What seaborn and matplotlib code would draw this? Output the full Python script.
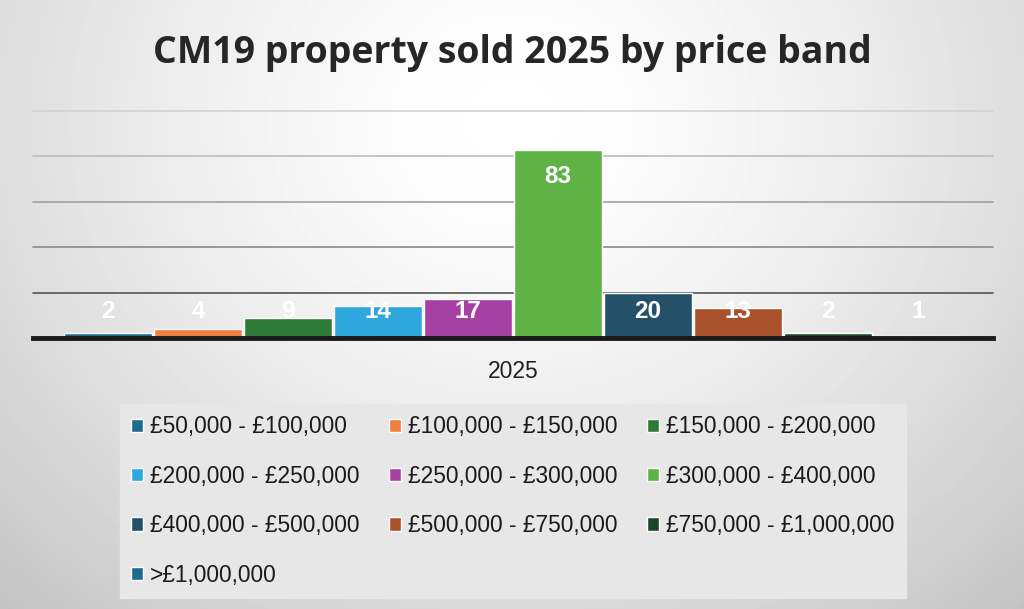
import numpy as np
import pandas as pd
import matplotlib
matplotlib.use("Agg")
import matplotlib.pyplot as plt
import seaborn as sns

year = ["2025"]
bands = ["£50,000 - £100,000", "£100,000 - £150,000", "£150,000 - £200,000",
         "£200,000 - £250,000", "£250,000 - £300,000", "£300,000 - £400,000",
         "£400,000 - £500,000", "£500,000 - £750,000", "£750,000 - £1,000,000",
         ">£1,000,000"]
sold = [2, 4, 9, 14, 17, 83, 20, 13, 2, 1]
colors = ["#1f6a8f", "#f08040", "#2e7b38", "#2ea8dc", "#a640a2",
          "#5fb246", "#25506a", "#a9512a", "#1d4628", "#1f6a8f"]
y_ticks = [0, 20, 40, 60, 80, 100]

df = pd.DataFrame({"year": year * len(bands), "band": bands, "sold": sold})

sns.set_style("white")
plt.rcParams['font.family'] = ['Liberation Sans', 'DejaVu Sans']

fig = plt.figure(figsize=(10.24, 6.09), dpi=100)

# radial grey background
bg = fig.add_axes([0, 0, 1, 1], zorder=-10)
yy, xx = np.mgrid[0:609, 0:1024]
r = np.sqrt(((xx - 512) / 700.0) ** 2 + ((yy - 120) / 620.0) ** 2)
shade = np.clip(1.0 - 0.21 * r ** 1.5, 0.76, 1.0)
bg.imshow(shade, cmap="gray", vmin=0, vmax=1, aspect="auto")
bg.axis("off")

ax = fig.add_axes([33 / 1024, 1 - 338 / 609, 960 / 1024, (338 - 111) / 609])
ax.patch.set_alpha(0)
sns.barplot(data=df, x="year", y="sold", hue="band", palette=colors,
            width=0.937, gap=0.02, saturation=1, legend=True, ax=ax, zorder=3)

ax.set_xlim(-0.5, 0.5)
ax.set_ylim(0, 100)
ax.set_yticks(y_ticks)
ax.set_yticklabels([])
ax.tick_params(axis="y", length=0)
ax.tick_params(axis="x", length=0, labelsize=16.5, colors="#222222", pad=16)
ax.set_xlabel("")
ax.set_ylabel("")
for s in ["top", "right", "left"]:
    ax.spines[s].set_visible(False)
ax.spines["bottom"].set_color("#1a1a1a")
ax.spines["bottom"].set_linewidth(3.5)
ax.spines["bottom"].set_zorder(5)

grid_cols = ["#555555", "#8a8a8a", "#a0a0a0", "#bcbcbc", "#d2d2d2"]
for yv, c in zip(y_ticks[1:], grid_cols):
    ax.axhline(yv, color=c, linewidth=1.2, zorder=1, clip_on=False)

for cont, v in zip(ax.containers, sold):
    bar = cont[0]
    xc = bar.get_x() + bar.get_width() / 2
    ax.text(xc, max(v - 12, 11.5), str(v), ha="center", va="center",
            color="white", fontsize=17.5, fontweight="bold", zorder=6,
            family=["Liberation Sans", "DejaVu Sans"])

handles, labels = ax.get_legend_handles_labels()
ax.get_legend().remove()
order = [0, 3, 6, 9, 1, 4, 7, 2, 5, 8]
leg = fig.legend([handles[i] for i in order], [labels[i] for i in order],
                 ncol=3, loc="upper left", bbox_to_anchor=(120 / 1024, 1 - 404 / 609),
                 borderaxespad=0, frameon=True, fancybox=False, fontsize=16.4,
                 handlelength=0.53, handleheight=0.53, handletextpad=0.3,
                 columnspacing=1.3, labelspacing=1.16, borderpad=0.5)
leg.get_frame().set_facecolor("#e7e7e7")
leg.get_frame().set_edgecolor("#e7e7e7")
leg.get_frame().set_alpha(1)
for t in leg.get_texts():
    t.set_color("#1a1a1a")

fig.text(0.5, 1 - 63 / 609, "CM19 property sold 2025 by price band",
         ha="center", va="baseline", fontsize=27, fontweight="bold",
         color="#262626", family=["Open Sans", "DejaVu Sans"])

fig.savefig("out.png", dpi=100)
